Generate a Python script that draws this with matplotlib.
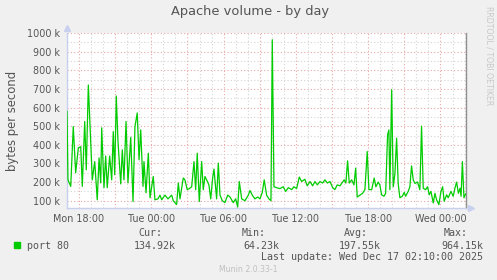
import matplotlib
matplotlib.use("Agg")
import matplotlib.pyplot as plt
import numpy as np

# hours since Mon 00:00 and traffic in kB/s (port 80)
hours = [17.0, 17.08, 17.31, 17.52, 17.72, 17.94, 18.14, 18.27, 18.47, 18.60,
         18.77, 18.97, 19.10, 19.30, 19.51, 19.66, 19.80, 19.88, 20.07, 20.21,
         20.34, 20.54, 20.71, 20.84, 20.96, 21.09, 21.23, 21.46, 21.59, 21.73,
         21.90, 22.06, 22.29, 22.48, 22.64, 22.83, 22.98, 23.12, 23.31, 23.39,
         23.56, 23.75, 23.89, 24.16, 24.30, 24.55, 24.72, 24.86, 25.13, 25.38,
         25.69, 25.82, 26.10, 26.24, 26.38, 26.65, 26.79, 26.98, 27.15, 27.35,
         27.54, 27.68, 27.81, 27.98, 28.18, 28.31, 28.45, 28.59, 28.78, 28.93,
         29.09, 29.20, 29.42, 29.56, 29.70, 29.89, 30.11, 30.34, 30.53, 30.80,
         31.00, 31.17, 31.30, 31.50, 31.77, 32.05, 32.19, 32.38, 32.60, 32.83,
         33.02, 33.21, 33.37, 33.57, 33.76, 33.93, 34.04, 34.18, 34.40, 34.68,
         34.95, 35.15, 35.37, 35.65, 35.84, 36.06, 36.28, 36.48, 36.75, 36.94,
         37.17, 37.39, 37.58, 37.78, 38.00, 38.22, 38.41, 38.61, 38.83, 39.05,
         39.24, 39.43, 39.66, 39.85, 40.01, 40.15, 40.29, 40.43, 40.63, 40.82,
         40.96, 41.09, 41.32, 41.54, 41.73, 41.92, 42.06, 42.29, 42.50, 42.64,
         42.83, 42.97, 43.11, 43.31, 43.45, 43.61, 43.72, 43.80, 43.95, 44.08,
         44.22, 44.36, 44.49, 44.63, 44.83, 44.99, 45.11, 45.32, 45.46, 45.60,
         45.74, 45.88, 46.10, 46.29, 46.43, 46.57, 46.77, 46.93, 47.07, 47.21,
         47.40, 47.54, 47.68, 47.87, 48.04, 48.18, 48.31, 48.51, 48.64, 48.87,
         49.06, 49.20, 49.34, 49.49, 49.63, 49.71, 49.82, 49.95, 50.09]
port80 = [580, 212, 177, 498, 250, 384, 390, 177, 525, 266,
          721, 409, 212, 310, 105, 330, 196, 491, 170, 340,
          170, 340, 212, 471, 240, 662, 420, 190, 373, 212,
          525, 196, 440, 96, 498, 571, 320, 480, 177, 310,
          143, 355, 116, 230, 105, 110, 130, 105, 130, 110,
          130, 100, 80, 195, 110, 222, 212, 159, 165, 175,
          310, 159, 355, 96, 310, 159, 230, 212, 185, 110,
          222, 270, 110, 302, 130, 100, 90, 130, 120, 90,
          110, 66, 203, 110, 100, 130, 155, 130, 110, 120,
          110, 145, 212, 130, 110, 100, 964, 175, 170, 165,
          175, 150, 170, 160, 175, 165, 227, 203, 215, 180,
          203, 180, 203, 185, 203, 195, 212, 195, 203, 170,
          160, 185, 180, 198, 212, 195, 314, 195, 212, 185,
          275, 120, 130, 140, 160, 364, 160, 159, 222, 175,
          200, 185, 132, 124, 140, 454, 480, 159, 695, 175,
          245, 436, 193, 116, 124, 145, 124, 150, 175, 287,
          212, 193, 200, 159, 500, 167, 159, 175, 132, 150,
          88, 140, 105, 79, 150, 175, 97, 132, 116, 150,
          124, 167, 200, 140, 167, 124, 310, 116, 137]

tick_hours = [18, 24, 30, 36, 42, 48]
tick_labels = ["Mon 18:00", "Tue 00:00", "Tue 06:00", "Tue 12:00", "Tue 18:00", "Wed 00:00"]
ytick_vals = list(range(100, 1001, 100))
ytick_labels = ["%d k" % v for v in ytick_vals]

stats_labels = ["Cur:", "Min:", "Avg:", "Max:"]
stats_values = ["134.92k", "64.23k", "197.55k", "964.15k"]

W, H = 497, 280
bg = "#f0f0f0"
txt = "#555555"
green = "#00cc00"

fig = plt.figure(figsize=(W / 100, H / 100), dpi=100, facecolor=bg)
ax = fig.add_axes([67 / W, 1 - 208 / H, 399 / W, 175 / H])
ax.set_facecolor("white")

ax.set_xlim(17.0, 50.12)
ax.set_ylim(61, 1000)

# grid: minor grey every hour / 50k, major red every 3h / 100k
for h in np.arange(18, 51, 1):
    c = "#e8a8a8" if h % 3 == 0 else "#d4d4d4"
    ax.axvline(h, color=c, lw=0.8, ls=(0, (1, 2)), zorder=1)
for v in range(100, 1001, 50):
    c = "#e8a8a8" if v % 100 == 0 else "#d4d4d4"
    ax.axhline(v, color=c, lw=0.8, ls=(0, (1, 2)), zorder=1)

ax.plot(hours, port80, color=green, lw=0.9, zorder=3)

ax.set_xticks(tick_hours)
ax.set_xticklabels(tick_labels)
ax.set_yticks(ytick_vals)
ax.set_yticklabels(ytick_labels)
ax.tick_params(axis="both", length=0, labelsize=6.9, colors=txt, pad=5)
ax.tick_params(axis="x", pad=4)

for s in ["top"]:
    ax.spines[s].set_visible(False)
ax.spines["left"].set_color("#c8d0f0")
ax.spines["bottom"].set_color("#c8d0f0")
ax.spines["right"].set_color("#909090")
for s in ["left", "bottom", "right"]:
    ax.spines[s].set_linewidth(1.0)

# arrows at the end of the axes
ax.plot([0], [1.03], marker="^", ms=4, color="#c8d0f0", transform=ax.transAxes, clip_on=False)
ax.plot([1.012], [0], marker=">", ms=4, color="#c8d0f0", transform=ax.transAxes, clip_on=False)

ax.set_ylabel("bytes per second", fontsize=8.4, color=txt, labelpad=6)


def px(x, y):
    return x / W, 1 - y / H


fig.text(*px(250, 12), "Apache volume - by day", ha="center", va="center", fontsize=9.4, color=txt)
fig.text(*px(489, 56), "RRDTOOL / TOBI OETIKER", ha="center", va="center", rotation=270,
         fontsize=5.6, color="#c8c8c8")

mono = "DejaVu Sans Mono"
fig.patches.append(plt.Rectangle(px(14, 248), 6 / W, 6 / H, transform=fig.transFigure,
                                 color=green, figure=fig))
fig.text(*px(27, 245.7), "port 80", ha="left", va="center", fontsize=7.2, color=txt, family=mono)

label_right = [162, 266, 368, 468]
value_right = [176, 279, 381, 483]
for lab, val, lr, vr in zip(stats_labels, stats_values, label_right, value_right):
    fig.text(*px(lr, 233.3), lab, ha="right", va="center", fontsize=7.2, color=txt, family=mono)
    fig.text(*px(vr, 245.7), val, ha="right", va="center", fontsize=7.2, color=txt, family=mono)

fig.text(*px(483, 257.3), "Last update: Wed Dec 17 02:10:00 2025", ha="right", va="center",
         fontsize=7.2, color=txt, family=mono)
fig.text(*px(248, 269), "Munin 2.0.33-1", ha="center", va="center", fontsize=5.6, color="#c0c0c0")

fig.savefig("out.png", dpi=100, facecolor=bg)
